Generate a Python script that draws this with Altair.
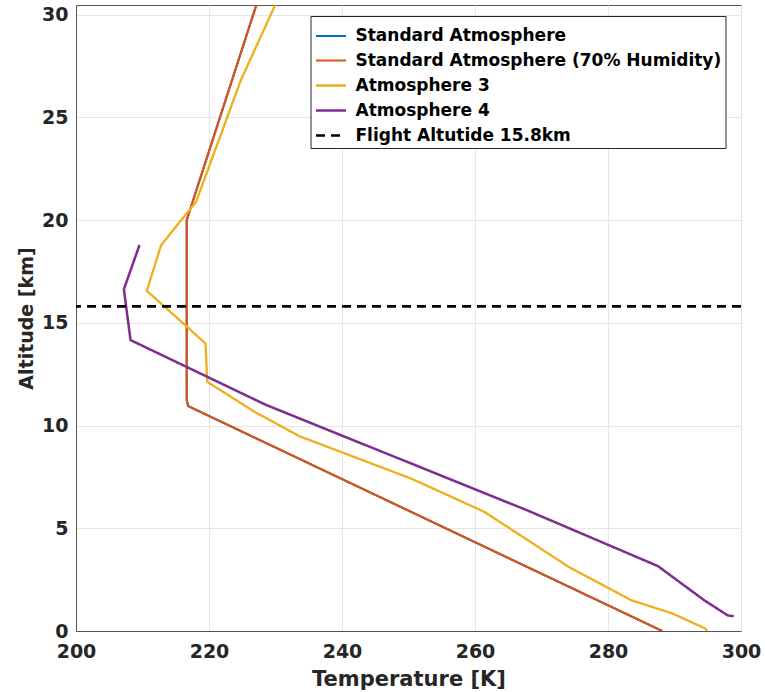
import altair as alt
import pandas as pd

# ---- data ----
series_names = ["Standard Atmosphere", "Standard Atmosphere (70% Humidity)",
                "Atmosphere 3", "Atmosphere 4", "Flight Altutide 15.8km"]
series_colors = ["#0072BD", "#D95319", "#EDB120", "#7E2F8E", "#000000"]
series_widths = [2.0, 2.7, 2.7, 2.7, 2.8]

std_T = [288.15, 216.85, 216.65, 216.65, 228.65]
std_alt = [0.0, 10.95, 11.25, 20.0, 32.0]

hum_T = [288.15, 216.85, 216.65, 216.65, 228.65]
hum_alt = [0.0, 10.95, 11.25, 20.0, 32.0]

atm3_T = [294.86, 294.66, 289.7, 283.5, 274.2, 261.4, 250.4, 233.6, 226.84,
          219.73, 219.47, 210.65, 212.8, 218.07, 224.8, 229.95]
atm3_alt = [0.0, 0.12, 0.85, 1.5, 3.1, 5.8, 7.42, 9.48, 10.67,
            12.13, 14.0, 16.56, 18.78, 20.9, 26.82, 30.47]

atm4_T = [298.9, 298.0, 294.5, 287.5, 267.8, 228.6, 208.2, 207.2, 209.55]
atm4_alt = [0.72, 0.76, 1.49, 3.16, 5.88, 11.0, 14.16, 16.63, 18.79]

flight_alt = [15.8]

x_ticks = [200, 220, 240, 260, 280, 300]
y_ticks = [0, 5, 10, 15, 20, 25, 30]

# ---- tables ----
rows = []
for name, Ts, As in [(series_names[0], std_T, std_alt),
                     (series_names[1], hum_T, hum_alt),
                     (series_names[2], atm3_T, atm3_alt),
                     (series_names[3], atm4_T, atm4_alt)]:
    for i, (t, a) in enumerate(zip(Ts, As)):
        rows.append({"name": name, "T": t, "alt": a, "idx": i})
lines_df = pd.DataFrame(rows)
flight_df = pd.DataFrame({"name": [series_names[4]], "alt": flight_alt})

FONT = "DejaVu Sans"

color_scale = alt.Scale(domain=series_names, range=series_colors)
dash_scale = alt.Scale(domain=series_names,
                       range=[[1, 0], [1, 0], [1, 0], [1, 0], [9, 6]])
width_scale = alt.Scale(domain=series_names, range=series_widths)

legend = alt.Legend(
    title=None, orient="none", legendX=234.5, legendY=11,
    symbolType="stroke", symbolSize=900, symbolStrokeWidth=2.6,
    labelFont=FONT, labelFontSize=17, labelFontWeight="bold", labelColor="#000000",
    labelLimit=600, labelOffset=8, rowPadding=-6, padding=4,
    strokeColor="#262626", fillColor="#ffffff", cornerRadius=0,
)

x_scale = alt.Scale(domain=[200, 300], nice=False, zero=False)
y_scale = alt.Scale(domain=[0, 30.47], nice=False, zero=True)

x_axis = alt.Axis(title="Temperature [K]", values=x_ticks,
                  labelFont=FONT, labelFontSize=19, labelFontWeight="bold",
                  labelColor="#262626", titleFont=FONT, titleFontSize=21,
                  titleFontWeight="bold", titleColor="#262626",
                  labelPadding=11, titlePadding=7, ticks=False,
                  grid=True, gridColor="#e6e6e6", gridWidth=1,
                  domainColor="#555555", labelFlush=False)
y_axis = alt.Axis(title="Altitude [km]", values=y_ticks,
                  labelFont=FONT, labelFontSize=19, labelFontWeight="bold",
                  labelColor="#262626", titleFont=FONT, titleFontSize=19,
                  titleFontWeight="bold", titleColor="#262626",
                  labelPadding=8, titlePadding=5, ticks=False,
                  grid=True, gridColor="#e6e6e6", gridWidth=1,
                  domainColor="#555555", labelFlush=False)

lines = alt.Chart(lines_df).mark_line(clip=True).encode(
    x=alt.X("T:Q", scale=x_scale, axis=x_axis),
    y=alt.Y("alt:Q", scale=y_scale, axis=y_axis),
    color=alt.Color("name:N", scale=color_scale, legend=legend, sort=series_names),
    strokeDash=alt.StrokeDash("name:N", scale=dash_scale, legend=legend, sort=series_names),
    strokeWidth=alt.StrokeWidth("name:N", scale=width_scale, legend=None),
    order=alt.Order("idx:Q"),
)

flight = alt.Chart(flight_df).mark_rule(strokeWidth=2.8, clip=True).encode(
    y=alt.Y("alt:Q", scale=y_scale),
    color=alt.Color("name:N", scale=color_scale, legend=legend, sort=series_names),
    strokeDash=alt.StrokeDash("name:N", scale=dash_scale, legend=legend, sort=series_names),
)

chart = alt.layer(lines, flight).properties(
    width=665, height=626,
    autosize=alt.AutoSizeParams(type="none"),
    padding={"left": 76, "top": 5, "right": 24, "bottom": 61},
    background="#ffffff",
).configure_view(
    stroke="#555555", strokeWidth=1
)

chart.save("out.html", embed_options={"renderer": "svg", "actions": False})
